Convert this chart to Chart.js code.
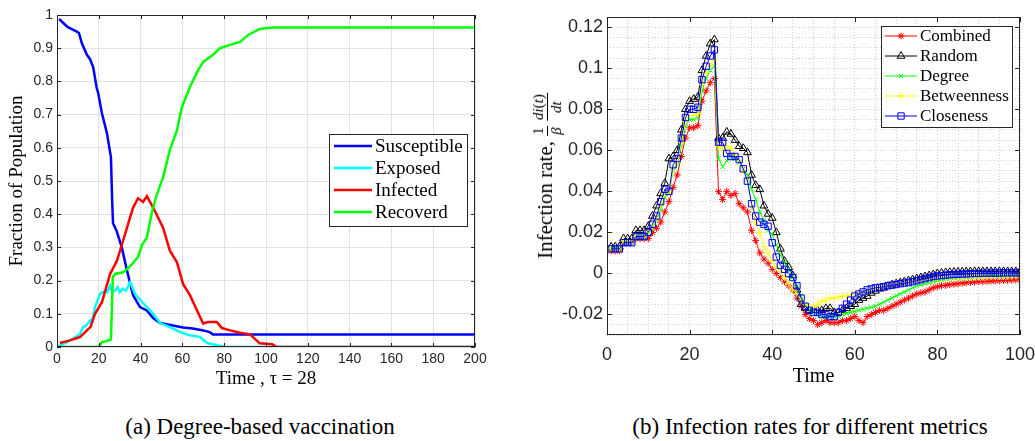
<!DOCTYPE html>
<html>
<head>
<meta charset="utf-8">
<script src="https://cdn.jsdelivr.net/npm/chart.js@4.4.1/dist/chart.umd.min.js"></script>
<style>
  body { margin: 0; background: #fff; }
  #page { position: relative; width: 1035px; height: 441px; overflow: hidden; font-family: "Liberation Serif", serif; color: #000; }
  .wrap { position: absolute; top: 0; height: 400px; }
  .cap { position: absolute; top: 414px; font-size: 23px; white-space: nowrap; transform: translateX(-50%); }
  #ylabB { position: absolute; left: 547px; top: 176px; transform: translate(-50%, -50%) rotate(-90deg); font-size: 21px; white-space: nowrap; }
  .frac { display: inline-flex; flex-direction: column; vertical-align: middle; text-align: center; font-size: 15px; line-height: 1.1; }
  .frac > span:first-child { border-bottom: 1px solid #000; padding: 0 1px; }
</style>
</head>
<body>
<div id="page">
  <div class="wrap" style="left:0;width:500px"><canvas id="chartA"></canvas></div>
  <div class="wrap" style="left:520px;width:515px"><canvas id="chartB"></canvas></div>
  <div id="ylabB">Infection rate, <span class="frac"><span>1</span><span><i>β</i></span></span> <span class="frac"><span><i>di</i>(<i>t</i>)</span><span><i>dt</i></span></span></div>
  <div class="cap" style="left:260px">(a) Degree-based vaccination</div>
  <div class="cap" style="left:810px">(b) Infection rates for different metrics</div>
</div>
<script>
// ---- (a) SEIR fractions, degree-based vaccination ----
const susT = [1, 5, 9.5, 10.5, 11.9, 14.3, 15.8, 17.3, 19, 19.7, 21.5, 23.9, 25.8, 26.4, 26.8, 28.5, 31, 33.5, 36.4, 39.7, 43, 46, 49.3, 55.5, 60.3, 65, 70, 73, 74.6, 200];
const susV = [0.988, 0.964, 0.950, 0.946, 0.915, 0.880, 0.867, 0.843, 0.78, 0.765, 0.704, 0.644, 0.572, 0.44, 0.373, 0.35, 0.30, 0.23, 0.156, 0.12, 0.11, 0.087, 0.072, 0.065, 0.059, 0.056, 0.05, 0.045, 0.038, 0.038];

const expT = [0, 4.8, 7.7, 11, 12.4, 14, 15.8, 16.5, 18.2, 20.6, 23, 24, 25.4, 26.5, 27.8, 29, 30, 31.5, 33, 35, 36, 37.3, 40, 43, 46, 49.3, 54, 58.9, 63.6, 68.4, 71.8, 76.5, 81, 200];
const expV = [0, 0.015, 0.025, 0.04, 0.06, 0.065, 0.08, 0.07, 0.12, 0.16, 0.17, 0.165, 0.185, 0.165, 0.17, 0.18, 0.165, 0.175, 0.17, 0.195, 0.18, 0.16, 0.14, 0.12, 0.10, 0.072, 0.06, 0.045, 0.035, 0.03, 0.012, 0.005, 0, 0];

const infT = [1.4, 6.2, 11, 14.3, 16, 18.2, 21.5, 25.4, 28.7, 31.6, 34, 36.4, 38.8, 41.2, 43, 46, 50.7, 54, 57.4, 60.3, 63.6, 67, 69.9, 72.2, 76.5, 78.9, 82.8, 87.6, 92.3, 97, 103, 105, 200];
const infV = [0.012, 0.02, 0.03, 0.05, 0.06, 0.1, 0.135, 0.22, 0.26, 0.32, 0.37, 0.42, 0.448, 0.437, 0.454, 0.42, 0.36, 0.29, 0.255, 0.19, 0.156, 0.11, 0.071, 0.075, 0.075, 0.057, 0.05, 0.043, 0.038, 0.011, 0.008, 0, 0];

const recT = [0, 20, 21.5, 23.9, 25.8, 26.7, 27.8, 31.6, 34, 36.4, 38.8, 40.7, 43, 45.4, 47.8, 50.7, 54, 57.4, 59.8, 63.6, 67.5, 69.9, 74.6, 78, 82.8, 87.6, 91.4, 97, 103.3, 200];
const recV = [0, 0, 0.015, 0.018, 0.022, 0.21, 0.22, 0.225, 0.237, 0.253, 0.272, 0.307, 0.33, 0.405, 0.46, 0.51, 0.593, 0.653, 0.723, 0.783, 0.834, 0.858, 0.88, 0.90, 0.91, 0.919, 0.94, 0.958, 0.962, 0.962];

// ---- (b) infection rate per metric, t = 1..100 ----
const timeSteps = Array.from({ length: 100 }, (_, i) => i + 1);
const combined = [
  .011, .011, .011, .015, .015, .015, .017, .017, .017, .017,
  .020, .022, .025, .030, .035, .042, .048, .057, .066, .071,
  .071, .072, .084, .089, .093, .095, .040, .036, .040, .038,
  .039, .034, .032, .030, .021, .016, .010, .007, .005, .002,
  .000, -.002, -.004, -.006, -.008, -.012, -.016, -.020, -.022, -.023,
  -.025, -.024, -.023, -.024, -.024, -.024, -.023, -.023, -.022, -.021,
  -.023, -.024, -.021, -.020, -.019, -.018, -.018, -.017, -.016, -.015,
  -.014, -.013, -.012, -.011, -.010, -.0095, -.009, -.008, -.007, -.0065,
  -.006, -.0058, -.0055, -.0052, -.005, -.0047, -.0045, -.0043, -.0042, -.004,
  -.004, -.0038, -.0037, -.0036, -.0035, -.0034, -.0033, -.0032, -.0031, -.003
];
const random = [
  .013, .013, .013, .017, .017, .017, .021, .021, .021, .023,
  .028, .033, .039, .044, .056, .057, .060, .070, .080, .084,
  .085, .086, .099, .106, .112, .114, .066, .066, .069, .068,
  .065, .062, .061, .059, .048, .043, .041, .033, .029, .027,
  .020, .012, .006, .003, -.001, -.008, -.015, -.017, -.018, -.018,
  -.018, -.018, -.017, -.017, -.019, -.019, -.018, -.017, -.016, -.015,
  -.013, -.012, -.011, -.0095, -.0085, -.0075, -.007, -.0062, -.0055, -.005,
  -.0045, -.004, -.0035, -.003, -.0025, -.002, -.0015, -.001, -.0005, 0,
  .0003, .0005, .0006, .0007, .0008, .0008, .0009, .0009, .001, .001,
  .001, .001, .001, .001, .001, .001, .001, .001, .001, .001
];
const degree = [
  .012, .012, .012, .015, .015, .015, .018, .018, .018, .019,
  .022, .026, .031, .037, .039, .050, .053, .062, .072, .075,
  .075, .076, .089, .095, .099, .101, .056, .052, .055, .057,
  .056, .054, .051, .048, .041, .036, .030, .026, .021, .019,
  .014, .009, .005, .002, -.002, -.006, -.011, -.015, -.018, -.019,
  -.020, -.021, -.021, -.021, -.021, -.021, -.020, -.0195, -.019, -.0185,
  -.018, -.0175, -.017, -.0165, -.016, -.015, -.014, -.013, -.012, -.011,
  -.010, -.009, -.008, -.007, -.006, -.0055, -.005, -.0045, -.004, -.0035,
  -.003, -.0027, -.0025, -.0023, -.0021, -.002, -.0019, -.0018, -.0017, -.0016,
  -.0015, -.0014, -.0013, -.0013, -.0012, -.0012, -.0011, -.0011, -.001, -.001
];
const betweenness = [
  .012, .012, .012, .016, .016, .016, .018, .018, .018, .020,
  .023, .027, .033, .039, .040, .051, .054, .064, .074, .077,
  .077, .078, .092, .098, .102, .104, .062, .060, .062, .061,
  .058, .055, .050, .046, .033, .025, .020, .013, .010, .006,
  .003, .001, -.002, -.005, -.008, -.010, -.013, -.015, -.016, -.0165,
  -.015, -.0135, -.013, -.012, -.012, -.0115, -.011, -.011, -.0105, -.010,
  -.0095, -.009, -.0085, -.008, -.0075, -.007, -.0065, -.006, -.0055, -.005,
  -.0048, -.0045, -.0042, -.004, -.0037, -.0035, -.0032, -.003, -.0028, -.0026,
  -.0024, -.0023, -.0022, -.0021, -.002, -.002, -.0019, -.0019, -.0018, -.0018,
  -.0017, -.0017, -.0016, -.0016, -.0015, -.0015, -.0014, -.0014, -.0013, -.0013
];
const closeness = [
  .012, .012, .012, .015, .015, .015, .018, .018, .018, .020,
  .024, .028, .035, .041, .040, .053, .056, .066, .076, .080,
  .080, .081, .0945, .101, .106, .109, .064, .064, .0585, .057,
  .057, .0555, .051, .045, .034, .028, .025, .024, .023, .015,
  .008, .004, .002, .000, -.002, -.006, -.012, -.016, -.018, -.019,
  -.019, -.020, -.020, -.021, -.021, -.019, -.017, -.015, -.013, -.011,
  -.010, -.009, -.008, -.0075, -.007, -.0068, -.0065, -.006, -.0057, -.0054,
  -.005, -.0047, -.0044, -.004, -.0035, -.003, -.0025, -.002, -.0015, -.0012,
  -.001, -.0008, -.0006, -.0005, -.0004, -.0003, -.0002, -.0001, 0, 0,
  .0001, .0001, .0002, .0002, .0002, .0003, .0003, .0003, .0003, .0003
];

const pts = (xs, ys) => xs.map((x, i) => ({ x, y: ys[i] }));
const tickFont = (size) => ({ family: "'Liberation Sans', Arial, sans-serif", size });
const serif = (size) => ({ family: "'Liberation Serif', serif", size });
const axisInk = "#262626";

// fix the axis box size and stop edge labels from shrinking the plot area
const fixSize = (dim, px) => (s) => {
  s[dim] = px;
  s.paddingLeft = 0; s.paddingRight = 0; s.paddingTop = 0; s.paddingBottom = 0;
};

// box round the axes, with short inward ticks like matlab
const framePlugin = {
  id: "frame",
  afterDatasetsDraw(chart, args, opts) {
    const { ctx, chartArea: a, scales } = chart;
    ctx.save();
    ctx.strokeStyle = axisInk;
    ctx.lineWidth = 1;
    ctx.strokeRect(a.left + 0.5, a.top + 0.5, a.width - 1, a.height - 1);
    ctx.beginPath();
    const nx = Math.round((scales.x.max - scales.x.min) / opts.xStep);
    for (let i = 0; i <= nx; i++) {
      const px = Math.round(scales.x.getPixelForValue(scales.x.min + i * opts.xStep)) + 0.5;
      ctx.moveTo(px, a.bottom); ctx.lineTo(px, a.bottom - opts.len);
      ctx.moveTo(px, a.top); ctx.lineTo(px, a.top + opts.len);
    }
    const ny = Math.round((scales.y.max - scales.y.min) / opts.yStep);
    for (let i = 0; i <= ny; i++) {
      const v = opts.yFrom + i * opts.yStep;
      if (v > scales.y.max + 1e-9) break;
      const py = Math.round(scales.y.getPixelForValue(v)) + 0.5;
      ctx.moveTo(a.left, py); ctx.lineTo(a.left + opts.len, py);
      ctx.moveTo(a.right, py); ctx.lineTo(a.right - opts.len, py);
    }
    ctx.stroke();
    ctx.restore();
  },
};

// legend box drawn inside the plot, top right
const boxLegend = {
  id: "boxLegend",
  afterDraw(chart, args, opts) {
    const { ctx, chartArea: a } = chart;
    const x = a.right - opts.right - opts.width;
    const y = a.top + opts.top;
    ctx.save();
    ctx.fillStyle = "#fff";
    ctx.fillRect(x, y, opts.width, opts.height);
    ctx.strokeStyle = axisInk;
    ctx.lineWidth = 1;
    ctx.strokeRect(x + 0.5, y + 0.5, opts.width, opts.height);
    ctx.font = opts.font;
    ctx.textBaseline = "middle";
    chart.data.datasets.forEach((ds, i) => {
      const cy = y + opts.first + i * opts.row;
      const x0 = x + opts.pad;
      ctx.strokeStyle = ds.borderColor;
      ctx.lineWidth = ds.borderWidth;
      ctx.beginPath();
      ctx.moveTo(x0, cy);
      ctx.lineTo(x0 + opts.line, cy);
      ctx.stroke();
      if (ds.pointRadius > 0 && Chart.helpers && Chart.helpers.drawPoint) {
        ctx.lineWidth = 1;
        ctx.fillStyle = "rgba(0,0,0,0)";
        Chart.helpers.drawPoint(ctx, { pointStyle: ds.pointStyle, radius: ds.pointRadius, rotation: 0, borderWidth: 1 }, x0 + opts.line / 2, cy);
      }
      ctx.fillStyle = "#000";
      ctx.fillText(ds.label, x0 + opts.line + opts.gap, cy + 1);
    });
    ctx.restore();
  },
};

const lineA = (label, xs, ys, color, order) => ({
  label, data: pts(xs, ys), borderColor: color, borderWidth: 2.5,
  pointRadius: 0, tension: 0, order,
});

new Chart(document.getElementById("chartA"), {
  type: "line",
  data: {
    datasets: [
      lineA("Susceptible", susT, susV, "#0000ff", 4),
      lineA("Exposed", expT, expV, "#00ffff", 3),
      lineA("Infected", infT, infV, "#ff0000", 2),
      lineA("Recoverd", recT, recV, "#00ff00", 1),
    ],
  },
  options: {
    responsive: true,
    maintainAspectRatio: false,
    animation: false,
    layout: { padding: { left: 0, top: 15, right: 25, bottom: 10 } },
    scales: {
      x: {
        type: "linear", min: 0, max: 200,
        afterFit: fixSize("height", 43),
        ticks: { stepSize: 20, autoSkip: false, maxRotation: 0, padding: 4, color: axisInk, font: tickFont(14) },
        grid: { color: "#e2e2e2", drawTicks: false },
        border: { display: false },
        title: { display: true, text: "Time , τ = 28", color: "#000", font: serif(19), padding: 0 },
      },
      y: {
        min: 0, max: 1,
        afterFit: fixSize("width", 57),
        ticks: { stepSize: 0.1, autoSkip: false, padding: 4, color: axisInk, font: tickFont(14), callback: (v) => String(+v.toFixed(1)) },
        grid: { color: "#e2e2e2", drawTicks: false },
        border: { display: false },
        title: { display: true, text: "Fraction of Population", color: "#000", font: serif(19), padding: { top: 6, bottom: 0 } },
      },
    },
    plugins: {
      legend: { display: false },
      tooltip: { enabled: false },
      frame: { xStep: 20, yStep: 0.1, yFrom: 0, len: 4 },
      boxLegend: { right: 8, top: 119, width: 138, height: 92, first: 12, row: 22, pad: 5, line: 38, gap: 3, font: "19px 'Liberation Serif', serif" },
    },
  },
  plugins: [framePlugin, boxLegend],
});

const lineB = (label, ys, color, style, radius, order) => ({
  label, data: pts(timeSteps, ys), borderColor: color, borderWidth: 1,
  pointStyle: style, pointRadius: radius, pointBorderColor: color, pointBorderWidth: 1,
  pointBackgroundColor: "rgba(0,0,0,0)", tension: 0, order,
});

new Chart(document.getElementById("chartB"), {
  type: "line",
  data: {
    datasets: [
      lineB("Combined", combined, "#ff0000", "star", 3.5, 5),
      lineB("Random", random, "#000000", "triangle", 4.5, 4),
      lineB("Degree", degree, "#00ff00", "crossRot", 3, 3),
      lineB("Betweenness", betweenness, "#ffff00", "cross", 3.5, 2),
      lineB("Closeness", closeness, "#0000ff", "rect", 4.5, 1),
    ],
  },
  options: {
    responsive: true,
    maintainAspectRatio: false,
    animation: false,
    layout: { padding: { left: 0, top: 17, right: 15, bottom: 11 } },
    scales: {
      x: {
        type: "linear", min: 0, max: 100,
        afterFit: fixSize("height", 54),
        ticks: {
          stepSize: 5, autoSkip: false, maxRotation: 0, padding: 9, color: axisInk, font: tickFont(18),
          callback: (v) => (v % 20 === 0 ? String(v) : ""),
        },
        grid: { color: "#cfcfcf", drawTicks: false },
        border: { display: false, dash: [1, 2] },
        title: { display: true, text: "Time", color: "#000", font: serif(20), padding: 0 },
      },
      y: {
        min: -0.03, max: 0.125,
        afterFit: fixSize("width", 87),
        ticks: {
          stepSize: 0.005, autoSkip: false, padding: 4, color: axisInk, font: tickFont(18),
          callback: (v) => {
            const k = v / 0.02;
            return Math.abs(k - Math.round(k)) < 1e-6 ? String(+v.toFixed(2)) : "";
          },
        },
        grid: { color: "#cfcfcf", drawTicks: false },
        border: { display: false, dash: [1, 2] },
      },
    },
    plugins: {
      legend: { display: false },
      tooltip: { enabled: false },
      frame: { xStep: 20, yStep: 0.02, yFrom: -0.02, len: 5 },
      boxLegend: { right: 8, top: 9, width: 131, height: 101, first: 10, row: 20, pad: 4, line: 32, gap: 3, font: "17px 'Liberation Serif', serif" },
    },
  },
  plugins: [framePlugin, boxLegend],
});
</script>
</body>
</html>
